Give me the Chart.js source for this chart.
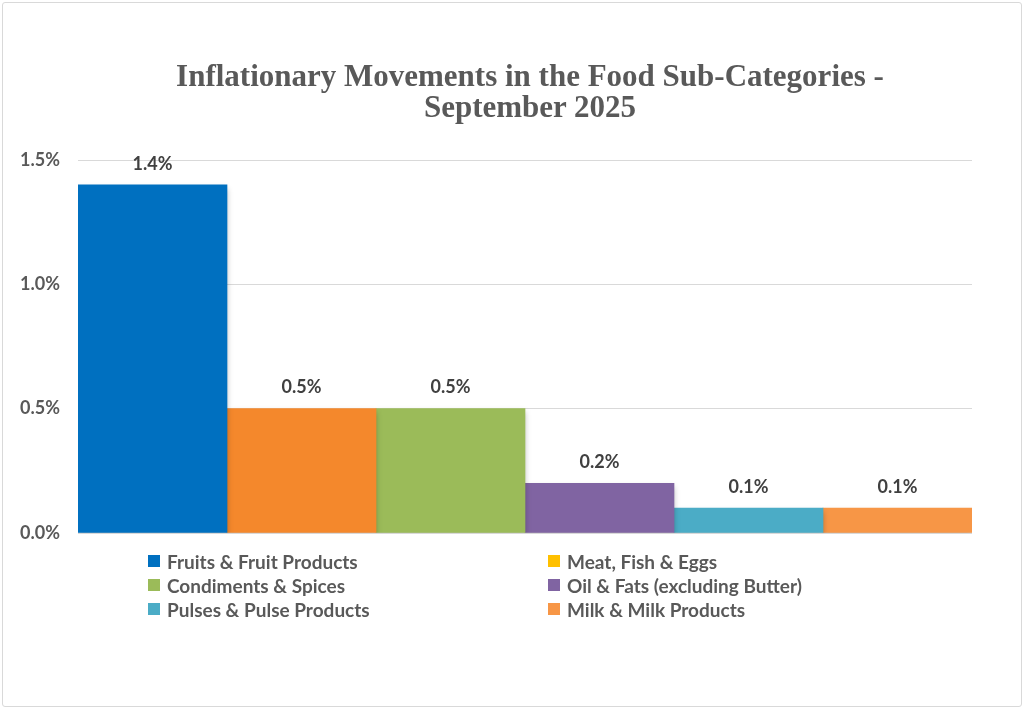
<!DOCTYPE html>
<html>
<head>
<meta charset="utf-8">
<script src="https://cdn.jsdelivr.net/npm/chart.js@4"></script>
<style>
  html, body { margin: 0; padding: 0; background: #fff; }
  #wrap { position: relative; width: 1024px; height: 709px; }
  #frame { position: absolute; left: 2px; top: 2px; width: 1018px; height: 703px; border: 1px solid #d9d9d9; border-radius: 3px; }
  #chart { position: absolute; left: 0; top: 0; }
  #title { position: absolute; left: 130px; width: 800px; top: 60px; text-align: center; white-space: nowrap; font-family: "Liberation Serif", "Times New Roman", serif; font-weight: bold; font-size: 31px; line-height: 31px; color: #595959; }
  #legend { position: absolute; left: 148px; top: 549px; display: grid; grid-template-columns: 400px 400px; }
  .item { display: flex; align-items: center; height: 24px; font-family: Lato, sans-serif; font-weight: 700; font-size: 19px; color: #595959; white-space: nowrap; }
  .box { width: 12px; height: 12px; margin-right: 7px; }
</style>
</head>
<body>
<div id="wrap">
  <div id="frame"></div>
  <canvas id="chart" width="1024" height="709"></canvas>
  <div id="title"></div>
  <div id="legend"></div>
</div>
<script>
var titleLines = ['Inflationary Movements in the Food Sub-Categories -', 'September 2025']
var seriesNames = ['Fruits & Fruit Products', 'Meat, Fish & Eggs', 'Condiments & Spices', 'Oil & Fats (excluding Butter)', 'Pulses & Pulse Products', 'Milk & Milk Products']
var seriesValues = [1.4, 0.5, 0.5, 0.2, 0.1, 0.1]
var barColors = ['#0070C0', '#F4882C', '#9BBB59', '#8064A2', '#4BACC6', '#F79646']
var legendColors = ['#0070C0', '#FFC000', '#9BBB59', '#8064A2', '#4BACC6', '#F79646']
var yTicks = [0, 0.5, 1.0, 1.5]

var datasets = []
for (let i = 0; i < seriesNames.length; i++) {
    datasets.push({
        label: seriesNames[i],
        data: [seriesValues[i]],
        backgroundColor: barColors[i],
        barPercentage: 1,
        categoryPercentage: 1
    })
}

// soft shadow under the bars
var shadowPlugin = {
    id: 'shadow',
    beforeDatasetsDraw: function (chart) {
        let ctx = chart.ctx
        ctx.save()
        ctx.shadowColor = 'rgba(0,0,0,0.28)'
        ctx.shadowBlur = 6
        ctx.shadowOffsetY = 4
    },
    afterDatasetsDraw: function (chart) {
        chart.ctx.restore()
    }
}

// value labels above the bars
var valueLabels = {
    id: 'valueLabels',
    afterDatasetsDraw: function (chart) {
        let ctx = chart.ctx
        ctx.save()
        ctx.font = 'bold 18px Lato'
        ctx.fillStyle = '#404040'
        ctx.textAlign = 'center'
        ctx.textBaseline = 'middle'
        chart.data.datasets.forEach(function (ds, i) {
            let bar = chart.getDatasetMeta(i).data[0]
            ctx.fillText(ds.data[0].toFixed(1) + '%', bar.x, bar.y - 21)
        })
        ctx.restore()
    }
}

new Chart(document.getElementById('chart'), {
    type: 'bar',
    data: { labels: ['September 2025'], datasets: datasets },
    plugins: [shadowPlugin, valueLabels],
    options: {
        responsive: false,
        animation: false,
        layout: { padding: { left: 0, right: 52, top: 160, bottom: 176 } },
        plugins: {
            legend: { display: false },
            tooltip: { enabled: false }
        },
        scales: {
            x: { display: false },
            y: {
                min: 0,
                max: 1.5,
                afterFit: function (scale) { scale.width = 78 },
                afterBuildTicks: function (scale) { scale.ticks = yTicks.map(v => ({ value: v })) },
                border: { display: false },
                grid: { color: '#d9d9d9', drawTicks: false },
                ticks: {
                    padding: 18,
                    color: '#595959',
                    font: { family: 'Lato', size: 18, weight: 'bold' },
                    callback: function (v) { return v.toFixed(1) + '%' }
                }
            }
        }
    }
})

document.getElementById('title').innerHTML = titleLines.join('<br>')

var legend = document.getElementById('legend')
seriesNames.forEach(function (name, i) {
    legend.innerHTML += `<div class="item"><span class="box" style="background:${legendColors[i]}"></span>${name}</div>`
})
</script>
</body>
</html>
